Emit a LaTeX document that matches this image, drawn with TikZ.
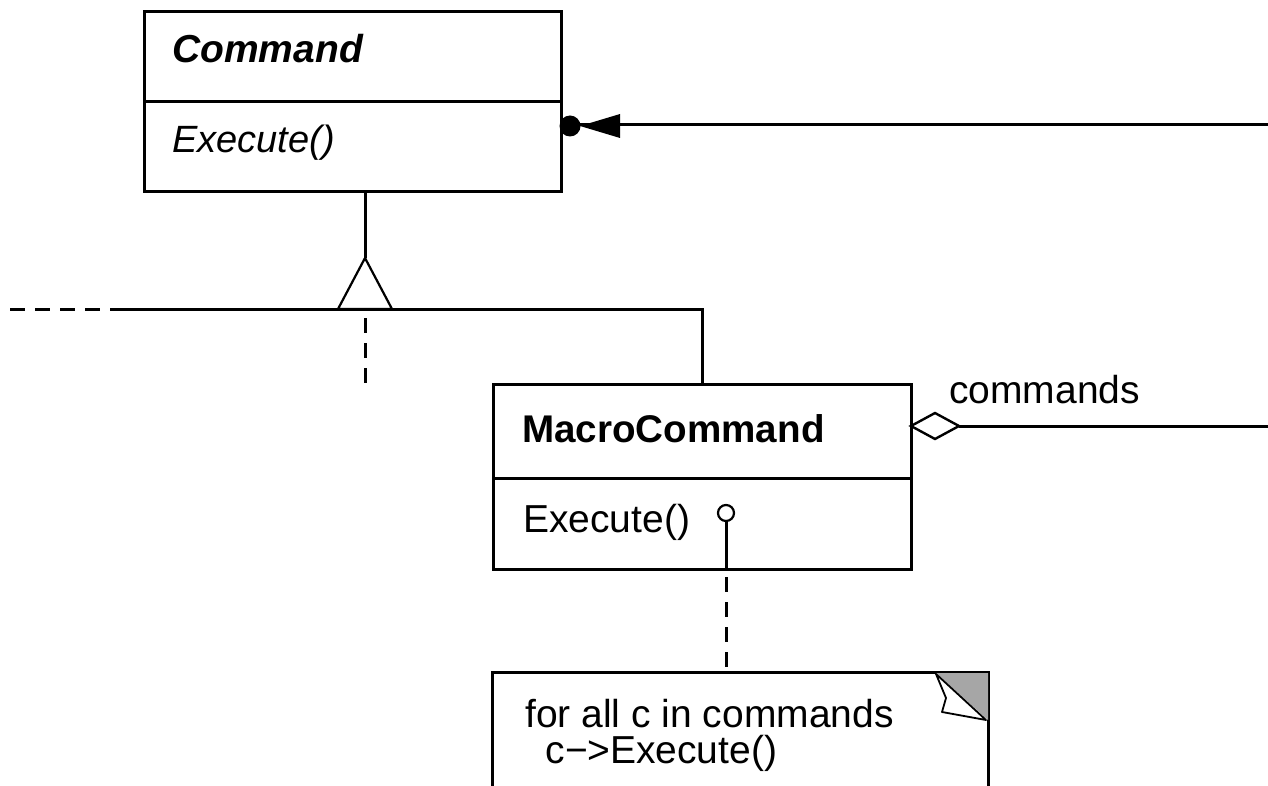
\documentclass[tikz,border=0pt]{standalone}
\usepackage{fontspec}
\setmainfont{Liberation Sans}
\begin{document}
\begin{tikzpicture}[x=1pt,y=-1pt,
  box/.style={draw,line width=3pt,rectangle,inner sep=0pt,anchor=north west},
  conn/.style={line width=3pt},
  dashconn/.style={line width=3pt,dash pattern=on 15pt off 10pt},
  lbl/.style={anchor=base west,inner sep=0pt,font=\fontsize{39}{40}\selectfont},
  blbl/.style={lbl,font=\fontsize{38.6}{40}\selectfont\bfseries}]
\useasboundingbox (0,0) rectangle (1268,786);
\clip (0,0) rectangle (1268,786);
\fill[white] (0,0) rectangle (1268,786);
% Command class
\node[box,minimum width=417pt,minimum height=90pt] (cmdT) at (143,10) {};
\node[box,minimum width=417pt,minimum height=90pt] (cmdB) at (143,100) {};
\node[blbl,font=\fontsize{39}{40}\selectfont\bfseries\itshape] (cmdN) at (172,63) {Command};
\node[lbl,font=\fontsize{38}{40}\selectfont\itshape] (cmdO) at (172,153) {Execute()};
% MacroCommand class
\node[box,minimum width=418pt,minimum height=94pt] (macT) at (492,383) {};
\node[box,minimum width=418pt,minimum height=91pt] (macB) at (492,477) {};
\node[blbl] (macN) at (522,442) {MacroCommand};
\node[lbl] (macO) at (523,532) {Execute()};
% note
\coordinate (noteTL) at (492,672);
\coordinate (noteTR) at (988,672);
\draw[line width=3pt] (492,800) -- (noteTL) -- (noteTR) -- (988,800);
\fill[gray!70] (936,673) -- (988,673) -- (988,720) -- cycle;
\draw[fill=white,line width=1.8pt,line join=round] (936,674) -- (946,698) -- (942,712) -- (986,720) -- cycle;
\node[lbl] (n1) at (525,727) {for all c in commands};
\node[lbl] (n2) at (545,763) {c{\kern1pt}−{\kern-1pt}>Execute()};
% association from right to Command: dot + arrowhead
\coordinate (cmdR) at (1268,125);
\coordinate (cmdE) at (560,125);
\draw[conn] (cmdE) -- (cmdR);
\fill (570,126) circle (10.5pt);
\fill (580,126) -- (620,114) -- (620,138) -- cycle;
% inheritance
\coordinate (apex) at (365,258);
\coordinate (bl) at (338,309);
\coordinate (br) at (392,309);
\coordinate (hl) at (120,309);
\coordinate (hd) at (10,309);
\coordinate (hr) at (702,309);
\draw[conn] (cmdB.south -| apex) -- (apex);
\draw[line width=2.2pt,line join=miter] (apex) -- (bl) -- (br) -- cycle;
\draw[conn] (hl) -- (hr) -- (macT.north -| hr);
\draw[dashconn] (hd) -- (hl);
\draw[dashconn] (365,318) -- (365,392);
% aggregation commands
\coordinate (dL) at (911,426);
\coordinate (dT) at (935,413);
\coordinate (dR) at (959,426);
\coordinate (dB) at (935,439);
\draw[line width=2.4pt,fill=white] (dL) -- (dT) -- (dR) -- (dB) -- cycle;
\draw[conn] (dR) -- (1268,426);
\node[lbl] (cmdsL) at (949,403) {commands};
% implementation note link
\coordinate (circC) at (726,513);
\draw[line width=2.2pt] (circC) circle (8pt);
\draw[conn] (726,521) -- (macB.south -| circC);
\draw[dashconn] (macB.south -| circC) ++(0,6) -- (noteTL -| circC);
\end{tikzpicture}
\end{document}
